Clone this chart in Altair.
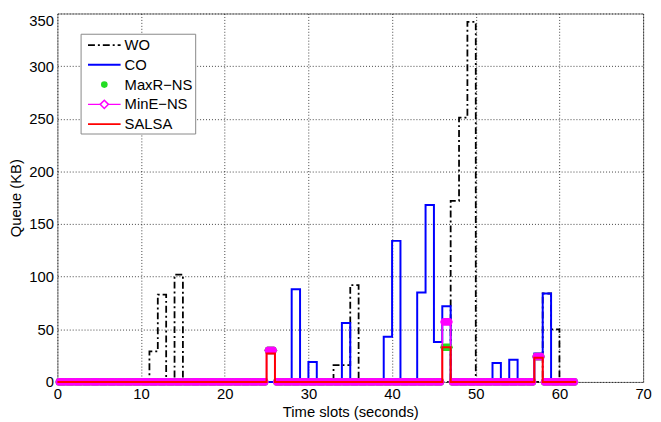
import altair as alt
import pandas as pd

# time slots (seconds)
t = list(range(63))

WO = [0, 0, 0, 0, 0, 0, 0, 0, 0, 0,
      0, 29, 83, 0, 102, 0, 0, 0, 0, 0,
      0, 0, 0, 0, 0, 0, 0, 0, 0, 0,
      0, 0, 0, 16, 16, 92, 0, 0, 0, 0,
      0, 0, 0, 0, 0, 0, 0, 172, 251, 342,
      0, 0, 0, 0, 0, 0, 0, 0, 84, 50,
      0, 0, 0]

CO = [0, 0, 0, 0, 0, 0, 0, 0, 0, 0,
      0, 0, 0, 0, 0, 0, 0, 0, 0, 0,
      0, 0, 0, 0, 0, 0, 0, 0, 88, 0,
      19, 0, 0, 0, 56, 0, 0, 0, 0, 43,
      134, 0, 0, 85, 168, 38, 72, 0, 0, 0,
      0, 0, 18, 0, 21, 0, 0, 27, 84, 0,
      0, 0, 0]

MAXR = [0, 0, 0, 0, 0, 0, 0, 0, 0, 0,
        0, 0, 0, 0, 0, 0, 0, 0, 0, 0,
        0, 0, 0, 0, 0, 30, 0, 0, 0, 0,
        0, 0, 0, 0, 0, 0, 0, 0, 0, 0,
        0, 0, 0, 0, 0, 0, 33, 0, 0, 0,
        0, 0, 0, 0, 0, 0, 0, 24, 0, 0,
        0, 0, 0]

MINE = [0, 0, 0, 0, 0, 0, 0, 0, 0, 0,
        0, 0, 0, 0, 0, 0, 0, 0, 0, 0,
        0, 0, 0, 0, 0, 30, 0, 0, 0, 0,
        0, 0, 0, 0, 0, 0, 0, 0, 0, 0,
        0, 0, 0, 0, 0, 0, 57, 0, 0, 0,
        0, 0, 0, 0, 0, 0, 0, 24, 0, 0,
        0, 0, 0]

SALSA = [0, 0, 0, 0, 0, 0, 0, 0, 0, 0,
         0, 0, 0, 0, 0, 0, 0, 0, 0, 0,
         0, 0, 0, 0, 0, 27, 0, 0, 0, 0,
         0, 0, 0, 0, 0, 0, 0, 0, 0, 0,
         0, 0, 0, 0, 0, 0, 33, 0, 0, 0,
         0, 0, 0, 0, 0, 0, 0, 23, 0, 0,
         0, 0, 0]

legend_labels = ["WO", "CO", "MaxR\u2212NS", "MinE\u2212NS", "SALSA"]
x_ticks = [0, 10, 20, 30, 40, 50, 60, 70]
y_ticks = [0, 50, 100, 150, 200, 250, 300, 350]

series = {"WO": WO, "CO": CO, "MaxR-NS": MAXR, "MinE-NS": MINE, "SALSA": SALSA}
df = pd.concat(
    [pd.DataFrame({"t": t, "q": v, "series": k}) for k, v in series.items()],
    ignore_index=True,
)

FONT = "Liberation Sans"

xaxis = alt.Axis(values=x_ticks, title="Time slots (seconds)", grid=True,
                 gridColor="#000000", gridDash=[1, 2], gridOpacity=0.75,
                 ticks=False, domain=False, labelFontSize=15, labelFont=FONT,
                 labelColor="black", labelPadding=5, titleFontSize=15,
                 titleFont=FONT, titleFontWeight="normal", titleColor="black",
                 titlePadding=3, labelFlush=False)
yaxis = alt.Axis(values=y_ticks, title="Queue (KB)", grid=True,
                 gridColor="#000000", gridDash=[1, 2], gridOpacity=0.75,
                 ticks=False, domain=False, labelFontSize=15, labelFont=FONT,
                 labelColor="black", labelPadding=4, titleFontSize=15,
                 titleFont=FONT, titleFontWeight="normal", titleColor="black",
                 titlePadding=5, labelFlush=False,
                 labelBaseline={"condition": {"test": "datum.value == 350", "value": "top"},
                                "value": "middle"})

xs = alt.Scale(domain=[0, 70], nice=False, zero=False)
ys = alt.Scale(domain=[0, 350], nice=False)

X = alt.X("t:Q", scale=xs, axis=xaxis)
XM = alt.X("xm:Q", scale=xs, axis=xaxis)
Y = alt.Y("q:Q", scale=ys, axis=yaxis)

base = alt.Chart(df)

def sel(name):
    return base.transform_filter(alt.datum.series == name)

wo_line = sel("WO").mark_line(interpolate="step-after", color="black",
                              strokeWidth=1.8, strokeDash=[7, 3, 2, 3]).encode(x=X, y=Y)
co_line = sel("CO").mark_line(interpolate="step-after", color="#0000FF",
                              strokeWidth=2).encode(x=X, y=Y)

blob = "M-1,0L-0.8,-0.5L-0.5,-0.6L0.5,-0.6L0.8,-0.5L1,0L0.8,0.5L0.5,0.6L-0.5,0.6L-0.8,0.5Z"

maxr_pts = sel("MaxR-NS").transform_filter(alt.datum.t < 62).transform_calculate(
    xm="datum.t + 0.5").mark_point(shape=blob, filled=True, color="#22DD22",
                                   size=165, opacity=1).encode(x=XM, y=Y)
mine_line = sel("MinE-NS").mark_line(interpolate="step-after", color="#FF00FF",
                                     strokeWidth=1.5).encode(x=X, y=Y)
mine_pts = sel("MinE-NS").transform_filter(alt.datum.t < 62).transform_calculate(
    xm="datum.t + 0.5").mark_point(shape=blob, filled=True, color="#FF00FF",
                                   size=165, opacity=1).encode(x=XM, y=Y)
salsa_line = sel("SALSA").mark_line(interpolate="step-after", color="#FF0000",
                                    strokeWidth=2).encode(x=X, y=Y)

# ---- manual legend (pixel positions inside the plot area) ----
one = pd.DataFrame({"k": [0]})
lg_left, lg_right, lg_top, lg_bottom = 24, 140, 21, 122
row_y = [32, 52, 72, 92, 112]
seg_x0, seg_x1, lab_x = 31, 64, 68
sym_x = (seg_x0 + seg_x1) / 2

legend_layers = [
    alt.Chart(one).mark_rect(fill="white", stroke="#888888", strokeWidth=1).encode(
        x=alt.value(lg_left), x2=alt.value(lg_right),
        y=alt.value(lg_top), y2=alt.value(lg_bottom)),
    alt.Chart(one).mark_rule(color="black", strokeWidth=1.8, strokeDash=[7, 3, 2, 3]).encode(
        x=alt.value(seg_x0), x2=alt.value(seg_x1), y=alt.value(row_y[0])),
    alt.Chart(one).mark_rule(color="#0000FF", strokeWidth=2).encode(
        x=alt.value(seg_x0), x2=alt.value(seg_x1), y=alt.value(row_y[1])),
    alt.Chart(one).mark_point(shape="circle", filled=True, color="#22DD22", size=45, opacity=1).encode(
        x=alt.value(sym_x), y=alt.value(row_y[2])),
    alt.Chart(one).mark_rule(color="#FF00FF", strokeWidth=1.5).encode(
        x=alt.value(seg_x0), x2=alt.value(seg_x1), y=alt.value(row_y[3])),
    alt.Chart(one).mark_point(shape="diamond", filled=True, fill="white", stroke="#FF00FF",
                              strokeWidth=1.5, size=70, opacity=1).encode(
        x=alt.value(sym_x), y=alt.value(row_y[3])),
    alt.Chart(one).mark_rule(color="#FF0000", strokeWidth=2).encode(
        x=alt.value(seg_x0), x2=alt.value(seg_x1), y=alt.value(row_y[4])),
]
for lab, yy in zip(legend_labels, row_y):
    legend_layers.append(
        alt.Chart(one).mark_text(text=lab, align="left", baseline="middle",
                                 fontSize=15, font=FONT, color="black").encode(
            x=alt.value(lab_x), y=alt.value(yy)))

chart = alt.layer(
    wo_line, co_line, maxr_pts, mine_line, mine_pts, salsa_line, *legend_layers
).properties(
    width=593, height=373,
    autosize=alt.AutoSizeParams(type="none"),
    padding={"left": 50, "top": 3, "right": 10, "bottom": 38},
    background="white",
).configure_view(stroke="#808080", strokeWidth=1)

chart.save("out.html", embed_options={"renderer": "svg", "actions": False})
